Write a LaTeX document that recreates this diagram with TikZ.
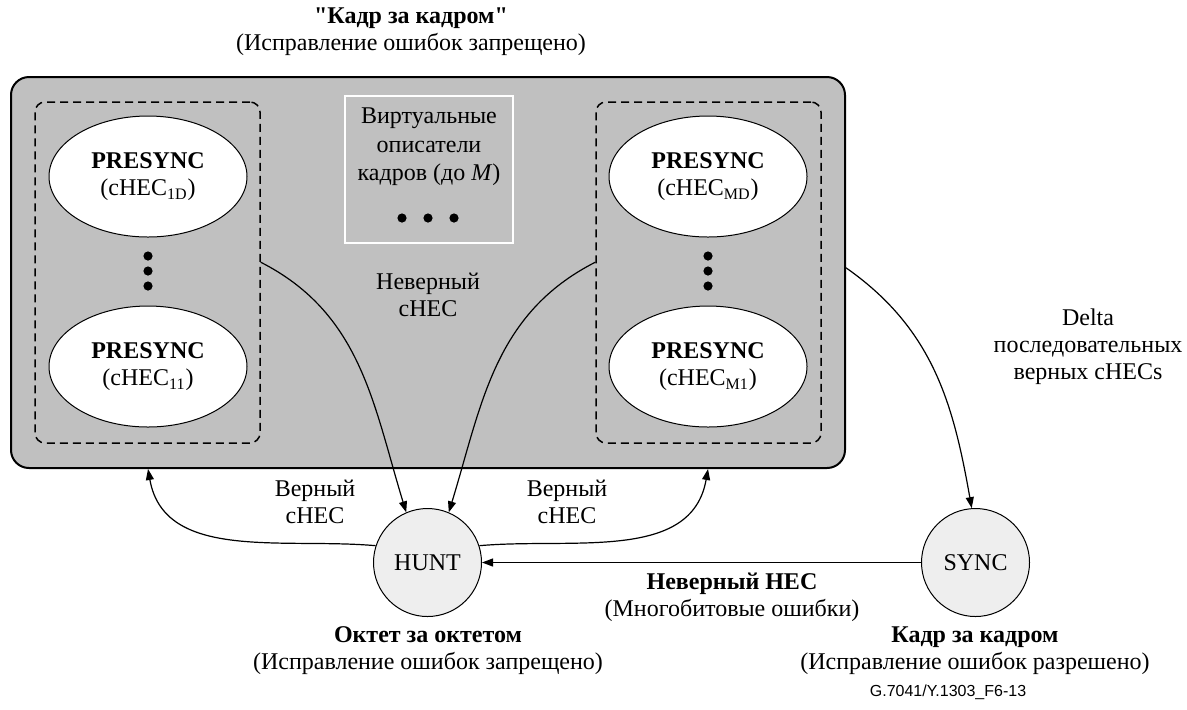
\documentclass[tikz,border=0pt]{standalone}
\usepackage{fontspec}
\setmainfont{Liberation Serif}
\newfontfamily\figsans{Liberation Sans}
\usetikzlibrary{arrows.meta,shapes.geometric,calc}
\definecolor{framegray}{HTML}{C0C0C0}
\definecolor{stategray}{HTML}{EEEEEE}
\begin{document}
\begin{tikzpicture}[x=0.5pt,y=0.5pt,
  txt/.style={font=\fontsize{12}{13.5}\selectfont, align=center, inner sep=0pt},
  presync/.style={ellipse, draw, line width=0.5pt, fill=white, minimum width=99pt,
    minimum height=60.5pt, txt, inner sep=0pt},
  group/.style={draw, dash pattern=on 4pt off 2.5pt, line width=0.75pt,
    rounded corners=5pt, minimum width=112.5pt, minimum height=170.5pt, inner sep=0pt},
  state/.style={circle, draw, line width=0.5pt, fill=stategray, minimum size=54pt,
    txt, inner sep=0pt},
  conn/.style={line width=0.6pt, -{Triangle[length=5.5pt,width=4pt]}},
  blob/.style={fill=black}
]
\useasboundingbox (0,0) rectangle (1187,-709);

% title above the frame-by-frame block
\node[txt] (title) at (411,-31.5)
  {\textbf{\textquotedbl Кадр за кадром\textquotedbl}\\(Исправление ошибок запрещено)};

% frame-by-frame block
\node[draw, line width=1pt, fill=framegray, rounded corners=9pt, minimum width=417pt,
  minimum height=195.5pt, inner sep=0pt] (frame) at (428,-272.5) {};

% groups of PRESYNC states
\node[group] (lgrp) at (147.5,-272.5) {};
\node[group] (rgrp) at (708.5,-272.5) {};

\node[presync] (l1d) at (148,-176.5) {\textbf{PRESYNC}\\(cHEC\textsubscript{1D})};
\node[presync] (l11) at (148,-366.5) {\textbf{PRESYNC}\\(cHEC\textsubscript{11})};
\node[presync] (rmd) at (708,-176.5) {\textbf{PRESYNC}\\(cHEC\textsubscript{MD})};
\node[presync] (rm1) at (708,-366.5) {\textbf{PRESYNC}\\(cHEC\textsubscript{M1})};

\foreach \yy in {256,271,286} {
  \fill[blob] (148,-\yy) circle (2.3pt);
  \fill[blob] (708,-\yy) circle (2.3pt);
}

% virtual frame descriptors
\node[draw=white, line width=1pt, minimum width=84pt, minimum height=73.5pt,
  inner sep=0pt] (vbox) at (429,-169.5) {};
\node[txt, font=\fontsize{12}{14.25}\selectfont] (vtext) at (429,-147)
  {Виртуальные\\описатели\\кадров (до \textit{M})};
\foreach \xx in {402,428,454} \fill[blob] (\xx,-218) circle (2.3pt);

\node[txt] (badc) at (428,-295) {Неверный\\cHEC};

% HUNT and SYNC states
\node[state] (hunt) at (427.5,-562.5) {HUNT};
\node[state] (sync) at (975.5,-562.5) {SYNC};

\node[txt] (hcap) at (428,-651) {\textbf{Октет за октетом}\\(Исправление ошибок запрещено)};
\node[txt] (scap) at (975,-651) {\textbf{Кадр за кадром}\\(Исправление ошибок разрешено)};

\node[txt] (goodl) at (315,-502) {Верный\\cHEC};
\node[txt] (goodr) at (567,-502) {Верный\\cHEC};
\node[txt] (badhec) at (732,-597) {\textbf{Неверный HEC}\\(Многобитовые ошибки)};
\node[txt] (delta) at (1088,-347) {Delta\\последовательных\\верных cHECs};

\node[font=\figsans\fontsize{8}{9}\selectfont, inner sep=0pt] (figid) at (948,-692)
  {G.7041/Y.1303\_F6-13};

% connector end points on the block outlines
\coordinate (lout) at ($(lgrp.north east)!0.47!(lgrp.south east)$);
\coordinate (rout) at ($(rgrp.north west)!0.47!(rgrp.south west)$);
\coordinate (fout) at ($(frame.north east)!0.488!(frame.south east)$);
\coordinate (lin) at (l11.center |- frame.south);
\coordinate (rin) at (rm1.center |- frame.south);

% transitions
\draw[conn] (lout) to[out=-27,in=107] (hunt.113);
\draw[conn] (rout) to[out=207,in=73] (hunt.67);
\draw[conn] (fout) to[out=-35,in=100] (sync.94);
\draw[conn] (hunt.162) to[out=175,in=-80] (lin);
\draw[conn] (hunt.18) to[out=5,in=-100] (rin);
\draw[conn] (sync.west) -- (hunt.east);
\end{tikzpicture}
\end{document}
